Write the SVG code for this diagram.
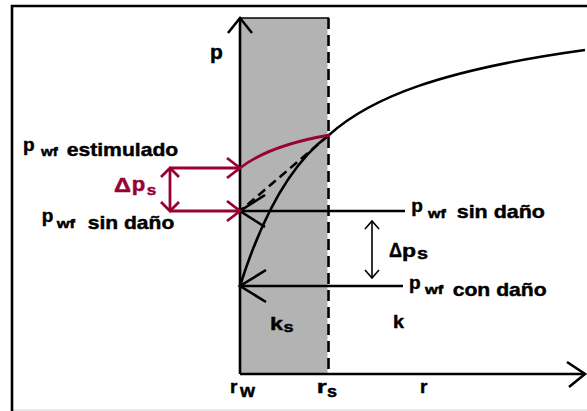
<svg xmlns="http://www.w3.org/2000/svg" width="587" height="411" viewBox="0 0 587 411">
<style>
.t{font-family:"Liberation Sans",Arial,sans-serif;font-weight:700;fill:#000;stroke:#000;stroke-width:0.45}
.rt{fill:#990033;stroke:#990033}
.ln{stroke:#000;stroke-width:2.6;fill:none}
.th{stroke:#000;stroke-width:1.6;fill:none}
.rd{stroke:#990033;stroke-width:2.8;fill:none}
</style>
<rect width="587" height="411" fill="#fff"/>
<rect x="12" y="409" width="575" height="2" fill="#e9e9e9"/>
<g id="frame">
<path class="ln" d="M12,411 V6 H587" stroke-width="3"/>
</g>
<g id="skin-zone">
<rect x="240" y="18" width="87.5" height="356" fill="#b3b3b3"/>
<path class="th" d="M240,18 H329"/>
<path class="ln" d="M328.5,18 V374" stroke-width="3" stroke-dasharray="11 6"/>
</g>
<g id="axes">
<path class="ln" d="M240,374 V18"/>
<path class="ln" d="M228,33 L240,18 L252,33"/>
<path class="ln" d="M240,374 H585"/>
<path class="ln" d="M567,362 L585,374 L569,387"/>
</g>
<g id="connectors">
<path class="ln" d="M329,135 C370,98 440,70 585,50"/>
<path class="ln" d="M329,135 Q275,175 240,286"/>
<path class="ln" d="M329,135 L240,211" stroke-dasharray="9 5"/>
<path class="ln" d="M405,211 H240"/>
<path class="ln" d="M265,195 L240,211 L265,227"/>
<path class="ln" d="M403,286 H240"/>
<path class="ln" d="M266,270 L240,286 L266,302"/>
<path class="th" d="M372,221 V278"/>
<path class="th" d="M365,229 L372,221 L379,229"/>
<path class="th" d="M365,270 L372,278 L379,270"/>
<path class="rd" d="M240,168 Q270,145 330,135"/>
<path class="rd" d="M170,168 H240"/>
<path class="rd" d="M227,158 L240,168 L227,178"/>
<path class="rd" d="M170,211 H240"/>
<path class="rd" d="M227,201 L240,211 L227,221"/>
<path class="rd" d="M170,168 V211"/>
<path class="rd" d="M161,177 L170,168 L179,177"/>
<path class="rd" d="M161,202 L170,211 L179,202"/>
</g>
<g id="labels">
<text class="t" x="210" y="59" font-size="21">p</text>
<text class="t" x="23" y="151" font-size="19">p</text>
<text class="t" x="41" y="156" font-size="12.5" textLength="16.7" lengthAdjust="spacingAndGlyphs">wf</text>
<text class="t" x="66.7" y="156" font-size="19" textLength="111.6" lengthAdjust="spacingAndGlyphs">estimulado</text>
<text class="t" x="41.7" y="222" font-size="19">p</text>
<text class="t" x="56.7" y="227.5" font-size="12.5" textLength="18.3" lengthAdjust="spacingAndGlyphs">wf</text>
<text class="t" x="87.7" y="228.5" font-size="19" textLength="86.6" lengthAdjust="spacingAndGlyphs">sin daño</text>
<text class="t" x="411.2" y="212" font-size="19">p</text>
<text class="t" x="428" y="217.5" font-size="12.5" textLength="17.7" lengthAdjust="spacingAndGlyphs">wf</text>
<text class="t" x="456.7" y="218.3" font-size="19" textLength="88.3" lengthAdjust="spacingAndGlyphs">sin daño</text>
<text class="t" x="409" y="288.5" font-size="19">p</text>
<text class="t" x="425" y="294" font-size="12.5" textLength="18.3" lengthAdjust="spacingAndGlyphs">wf</text>
<text class="t" x="452.7" y="296" font-size="19" textLength="94" lengthAdjust="spacingAndGlyphs">con daño</text>
<text class="t" x="389" y="256.5" font-size="20" textLength="13" lengthAdjust="spacingAndGlyphs">Δ</text>
<text class="t" x="402" y="256.5" font-size="19" textLength="14" lengthAdjust="spacingAndGlyphs">p</text>
<text class="t" x="417" y="258.5" font-size="16" textLength="11" lengthAdjust="spacingAndGlyphs">s</text>
<text class="t rt" x="114" y="191.7" font-size="21" textLength="17" lengthAdjust="spacingAndGlyphs">Δ</text>
<text class="t rt" x="131.7" y="191" font-size="20" textLength="13.5" lengthAdjust="spacingAndGlyphs">p</text>
<text class="t rt" x="146.7" y="195" font-size="15" textLength="9.5" lengthAdjust="spacingAndGlyphs">s</text>
<text class="t" x="393" y="328" font-size="19" textLength="11" lengthAdjust="spacingAndGlyphs">k</text>
<text class="t" x="270" y="330" font-size="19" textLength="13" lengthAdjust="spacingAndGlyphs">k</text>
<text class="t" x="283.5" y="331.7" font-size="15" textLength="10" lengthAdjust="spacingAndGlyphs">s</text>
<text class="t" x="230" y="393" font-size="19">r</text>
<text class="t" x="240" y="396.7" font-size="18" textLength="15" lengthAdjust="spacingAndGlyphs">w</text>
<text class="t" x="316.7" y="393" font-size="19" textLength="10" lengthAdjust="spacingAndGlyphs">r</text>
<text class="t" x="327" y="396.7" font-size="16" textLength="10" lengthAdjust="spacingAndGlyphs">s</text>
<text class="t" x="420" y="393" font-size="19">r</text>
</g>
</svg>
